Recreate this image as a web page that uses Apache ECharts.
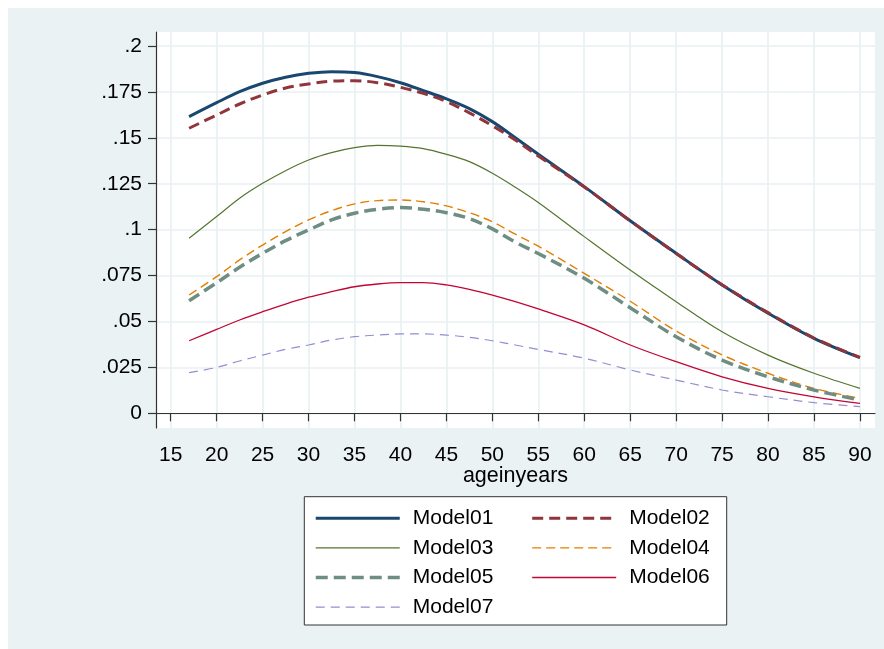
<!DOCTYPE html>
<html>
<head>
<meta charset="utf-8">
<script src="https://cdn.jsdelivr.net/npm/echarts@6/dist/echarts.min.js"></script>
<style>
html,body{margin:0;padding:0;background:#ffffff;}
#chart{position:absolute;left:8px;top:8px;width:876px;height:641px;background:#EAF2F3;}
</style>
</head>
<body>
<div id="chart"></div>
<script>
const ages    = [17,20,22.5,25,27.5,30,32.5,35,37.5,40,42.5,45,47.5,50,52.5,55,60,65,70,75,80,85,90];
const model01 = [0.1615,0.1691,0.1751,0.1797,0.1830,0.1851,0.1860,0.1855,0.1833,0.1800,0.1757,0.1712,0.1659,0.1588,0.1500,0.1410,0.1234,0.1048,0.0871,0.0699,0.0545,0.0408,0.0303];
const model02 = [0.1552,0.1624,0.1684,0.1733,0.1771,0.1793,0.1808,0.1811,0.1800,0.1775,0.1742,0.1697,0.1636,0.1566,0.1488,0.1401,0.1232,0.1048,0.0870,0.0700,0.0548,0.0410,0.0305];
const model03 = [0.0953,0.1071,0.1171,0.1252,0.1321,0.1379,0.1419,0.1446,0.1459,0.1455,0.1441,0.1410,0.1370,0.1307,0.1231,0.1148,0.0962,0.0780,0.0608,0.0444,0.0317,0.0218,0.0136];
const model04 = [0.0644,0.0744,0.0835,0.0916,0.0989,0.1053,0.1103,0.1140,0.1158,0.1161,0.1152,0.1129,0.1092,0.1043,0.0975,0.0910,0.0762,0.0610,0.0448,0.0318,0.0218,0.0136,0.0082];
const model05 = [0.0613,0.0711,0.0795,0.0871,0.0940,0.0998,0.1053,0.1089,0.1111,0.1120,0.1111,0.1092,0.1060,0.1004,0.0932,0.0870,0.0735,0.0575,0.0417,0.0290,0.0199,0.0127,0.0072];
const model06 = [0.0395,0.0457,0.0508,0.0553,0.0595,0.0632,0.0662,0.0689,0.0704,0.0711,0.0711,0.0699,0.0675,0.0644,0.0608,0.0568,0.0481,0.0372,0.0281,0.0199,0.0136,0.0090,0.0054];
const model07 = [0.0221,0.0250,0.0285,0.0317,0.0348,0.0372,0.0399,0.0417,0.0426,0.0432,0.0432,0.0426,0.0414,0.0395,0.0372,0.0348,0.0300,0.0236,0.0181,0.0127,0.0090,0.0058,0.0036];
const seriesNames = ['Model01','Model02','Model03','Model04','Model05','Model06','Model07'];
const xTicks = [15,20,25,30,35,40,45,50,55,60,65,70,75,80,85,90];
const yTicks = [0,0.025,0.05,0.075,0.1,0.125,0.15,0.175,0.2];
const xTitle = 'ageinyears';

const allValues = [model01,model02,model03,model04,model05,model06,model07];
const styles = [
  {color:'#1A476F', width:3, type:'solid'},
  {color:'#90353B', width:3, type:[11,6]},
  {color:'#55752F', width:1.2, type:'solid'},
  {color:'#E37E00', width:1.4, type:[9,5]},
  {color:'#6E8E84', width:3.5, type:[12,6]},
  {color:'#C10534', width:1.3, type:'solid'},
  {color:'#938DD2', width:1.2, type:[9,6]}
];

const series = seriesNames.map((name,i)=>({
  name: name,
  type: 'line',
  smooth: 0.35,
  smoothConstraint: false,
  symbol: 'none',
  showSymbol: false,
  itemStyle: {color: styles[i].color},
  lineStyle: {color: styles[i].color, width: styles[i].width, type: styles[i].type},
  emphasis: {disabled: true},
  data: ages.map((a,j)=>[a, allValues[i][j]])
}));

const font = 'Liberation Sans, Arial, Helvetica, sans-serif';
const legendCommon = {
  orient: 'vertical',
  padding: 0,
  itemWidth: 84,
  itemHeight: 14,
  itemGap: 7.6,
  selectedMode: false,
  itemStyle: {color: 'rgba(0,0,0,0)', borderColor: 'rgba(0,0,0,0)', borderWidth: 0, opacity: 0},
  lineStyle: {width: 'inherit', opacity: 1},
  textStyle: {fontSize: 21, fontFamily: font, color: '#000', lineHeight: 22, padding: [0,0,0,8]}
};

const chart = echarts.init(document.getElementById('chart'), null, {renderer: 'canvas'});
chart.setOption({
  backgroundColor: '#EAF2F3',
  animation: false,
  textStyle: {fontFamily: font},
  grid: {
    left: 148, top: 24, right: 9, bottom: 221,
    show: true, backgroundColor: '#ffffff', borderWidth: 0
  },
  xAxis: {
    type: 'value',
    min: 13.40, max: 91.64,
    name: xTitle,
    nameLocation: 'middle',
    nameGap: 37,
    nameMoveOverlap: false,
    nameTextStyle: {fontSize: 21.5, color: '#000', fontFamily: font},
    axisLine: {show: true, lineStyle: {color: '#333', width: 1.2}},
    axisTick: {show: true, length: 8, customValues: xTicks, lineStyle: {color: '#333', width: 1.2}},
    axisLabel: {show: true, customValues: xTicks, margin: 17, fontSize: 21, color: '#000', fontFamily: font},
    splitLine: {show: true, lineStyle: {color: '#E8F0F2', width: 1.6}}
  },
  yAxis: {
    type: 'value',
    min: -0.0080, max: 0.2076,
    axisLine: {show: true, lineStyle: {color: '#333', width: 1.2}},
    axisTick: {show: true, length: 8, customValues: yTicks, lineStyle: {color: '#333', width: 1.2}},
    axisLabel: {
      show: true, customValues: yTicks, margin: 14, fontSize: 21, color: '#000', fontFamily: font,
      formatter: v => (Math.abs(v) < 1e-9 ? '0' : String(+v.toFixed(4)).replace(/^0/, ''))
    },
    splitLine: {show: true, lineStyle: {color: '#E8F0F2', width: 1.6}}
  },
  graphic: [{
    type: 'rect', z: 0,
    shape: {x: 296.3, y: 488.7, width: 422.4, height: 128.3},
    style: {fill: '#ffffff', stroke: '#333333', lineWidth: 1}
  }],
  legend: [
    Object.assign({}, legendCommon, {left: 306, top: 499.3, data: ['Model01','Model03','Model05','Model07']}),
    Object.assign({}, legendCommon, {left: 522.7, top: 499.3, data: ['Model02','Model04','Model06']})
  ],
  series: series
});
</script>
</body>
</html>
